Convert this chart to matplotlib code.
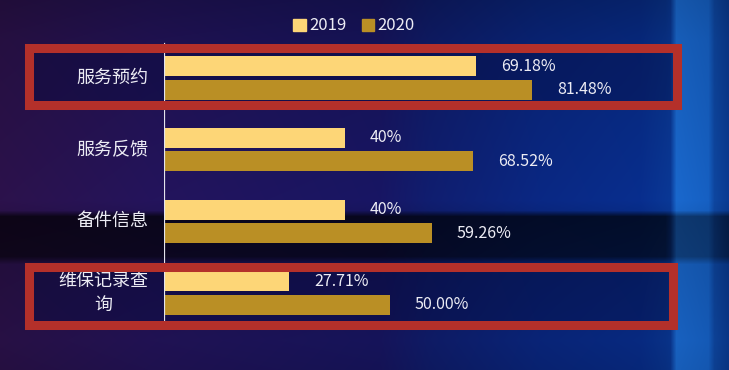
import numpy as np
import matplotlib.pyplot as plt
from matplotlib.patches import Rectangle, Patch

plt.rcParams['font.family'] = ['Noto Sans CJK SC', 'DejaVu Sans']

categories = ['服务预约', '服务反馈', '备件信息', '维保记录查\n询']
series_names = ['2019', '2020']
values_2019 = [69.18, 40, 40, 27.71]
values_2020 = [81.48, 68.52, 59.26, 50.00]
labels_2019 = ['69.18%', '40%', '40%', '27.71%']
labels_2020 = ['81.48%', '68.52%', '59.26%', '50.00%']

c2019 = '#FDD677'
c2020 = '#BA8F25'
txt = '#ECECF4'
red = '#B4302A'

W, H = 729, 370
fig = plt.figure(figsize=(W / 100, H / 100), dpi=100)

# background picture (dark purple -> blue, lighter strip on the right, dark band)
xs = np.arange(W)
ys = np.arange(H)
stops_x = [0, 150, 380, 430, 540, 640, 670, 676, 708, 714, 729]
stops_r = [44, 36, 24, 16, 10, 8, 10, 26, 22, 14, 10]
stops_g = [18, 20, 22, 30, 40, 46, 56, 104, 96, 70, 58]
stops_b = [76, 92, 100, 112, 132, 142, 150, 205, 195, 160, 145]
row = np.stack([np.interp(xs, stops_x, s) for s in (stops_r, stops_g, stops_b)], axis=-1)
shade = np.interp(ys, [0, 40, 200, 210, 216, 256, 264, 340, 370],
                  [0.75, 0.85, 1.0, 0.95, 0.3, 0.35, 0.8, 0.9, 0.85])
# the light strip keeps more of its colour inside the dark band
strip = np.interp(xs, [0, 665, 676, 712, 729], [0, 0, 1, 1, 0.6])
shade2d = shade[:, None] + (1 - shade[:, None]) * 0.35 * strip[None, :]
img = row[None, :, :] * shade2d[:, :, None]
img = np.clip(img / 255.0, 0, 1)

bg = fig.add_axes([0, 0, 1, 1])
bg.imshow(img, aspect='auto', extent=[0, W, H, 0], interpolation='bilinear')
bg.set_xlim(0, W)
bg.set_ylim(H, 0)
bg.axis('off')
for (x0, y0, x1, y1) in [(29, 48, 677, 104), (29, 267, 673, 325)]:
    bg.add_patch(Rectangle((x0, y0), x1 - x0, y1 - y0, facecolor='#050a3c',
                           alpha=0.35, edgecolor='none'))

# bar axes
px_per_pct = 4.516
left_px, top_px, bot_px = 164, 30, 340
ax = fig.add_axes([left_px / W, (H - bot_px) / H, (W - left_px) / W, (bot_px - top_px) / H])
ax.patch.set_alpha(0)
ax.set_xlim(0, (W - left_px) / px_per_pct)
ax.set_ylim(3.654, -0.669)
ax.axis('off')

y = np.arange(len(categories))
ax.barh(y - 0.164, values_2019, height=0.28, color=c2019)
ax.barh(y + 0.164, values_2020, height=0.28, color=c2020)
for i in range(len(categories)):
    ax.text(values_2019[i] + 5.5, y[i] - 0.164, labels_2019[i], color=txt,
            fontsize=11.5, va='center', ha='left')
    ax.text(values_2020[i] + 5.5, y[i] + 0.164, labels_2020[i], color=txt,
            fontsize=11.5, va='center', ha='left')
    ax.text(-3.4, y[i], categories[i], color=txt, fontsize=13, va='center',
            ha='right', multialignment='center', linespacing=1.4, clip_on=False)
ax.axvline(0, ymin=0.058, ymax=0.955, color='#E4E4EC', lw=1.6)

# highlight frames on top
ov = fig.add_axes([0, 0, 1, 1])
ov.patch.set_alpha(0)
ov.set_xlim(0, W)
ov.set_ylim(H, 0)
ov.axis('off')
for (x0, y0, x1, y1) in [(29.5, 47.5, 677.5, 104.5), (29.5, 267, 673.5, 325)]:
    ov.add_patch(Rectangle((x0, y0), x1 - x0, y1 - y0, facecolor='none',
                           edgecolor=red, lw=6.5))

handles = [Patch(color=c2019), Patch(color=c2020)]
fig.legend(handles, series_names, loc='center', bbox_to_anchor=(354 / W, 1 - 26 / H),
           ncol=2, frameon=False, handlelength=0.75, handleheight=0.75,
           handletextpad=0.2, columnspacing=0.9, fontsize=12, labelcolor=txt)

fig.savefig('out.png', dpi=100)
